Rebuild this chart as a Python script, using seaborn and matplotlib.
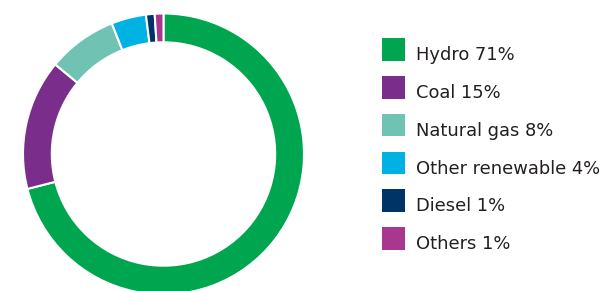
import matplotlib
matplotlib.use("Agg")
import matplotlib.pyplot as plt
import seaborn as sns
from matplotlib.patches import Rectangle

sns.set_theme(style="white")
plt.rcParams['font.family'] = ['DejaVu Sans']

categories = ["Hydro", "Coal", "Natural gas", "Other renewable", "Diesel", "Others"]
shares = [71, 15, 8, 4, 1, 1]
colors = ["#00A64F", "#7B2D8B", "#70C3B3", "#00B2E3", "#003366", "#A8388F"]
labels = [f"{c} {v}%" for c, v in zip(categories, shares)]

W, H = 601, 291
fig = plt.figure(figsize=(W / 100, H / 100), dpi=100)
cx, cy, r = 163.5, 154.0, 140.5
ax = fig.add_axes([(cx - r) / W, (H - cy - r) / H, 2 * r / W, 2 * r / H])
ax.pie(shares, colors=colors, startangle=90, counterclock=False,
       wedgeprops=dict(width=0.205, edgecolor="white", linewidth=1.5))
ax.set_xlim(-1, 1)
ax.set_ylim(-1, 1)
ax.set_aspect("equal")
ax.axis("off")

# legend drawn in pixel layout
sq_x, sq_w, sq_h = 382, 23, 22.5
top0, step = 38.3, 37.75
for i, (c, lab) in enumerate(zip(colors, labels)):
    top = top0 + i * step
    bottom = top + sq_h
    fig.add_artist(Rectangle((sq_x / W, 1 - bottom / H), sq_w / W, sq_h / H,
                             transform=fig.transFigure, facecolor=c, edgecolor="none"))
    fig.text(416 / W, 1 - (bottom - 0.5) / H, lab, fontsize=12.9, color="#231F20",
             va="baseline", ha="left")

fig.savefig("out.png", dpi=100)
